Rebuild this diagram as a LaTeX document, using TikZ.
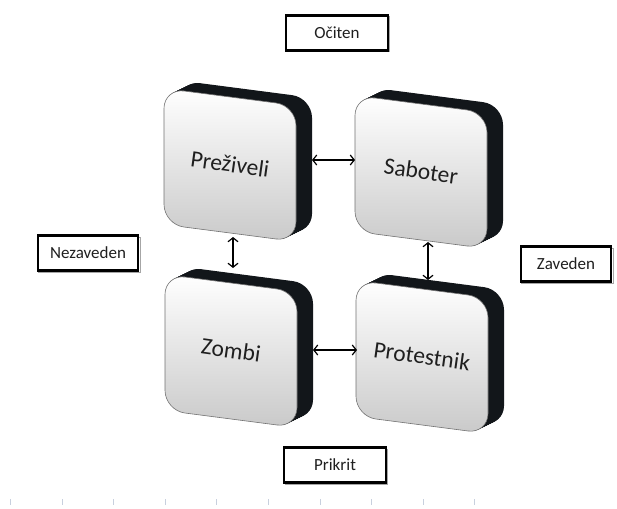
\documentclass[tikz,border=0pt]{standalone}
\usepackage{fontspec}
\setmainfont{Carlito}
\usetikzlibrary{arrows.meta}
\definecolor{sidecol}{RGB}{18,22,26}
\definecolor{tickcol}{RGB}{200,208,222}
\tikzset{
  facebox/.style={rounded corners=20pt, top color=white, bottom color=black!21, draw=black!55, line width=0.6pt},
  sidebox/.style={rounded corners=20pt, fill=sidecol},
  blocktext/.style={font=\fontsize{23.5}{27}\selectfont, text=black!88, rotate=-8, inner sep=1pt},
  boundbox/.style={inner sep=0pt, outer sep=0pt, draw=none},
  labelbox/.style={draw=black, line width=2.4pt, fill=white, minimum width=102pt, minimum height=35pt, font=\fontsize{17}{20}\selectfont, text=black!88, inner sep=0pt},
  labshadow/.style={draw=black!35, line width=1pt, minimum width=102pt, minimum height=35pt, inner sep=0pt},
  conn/.style={{Straight Barb[length=4pt,width=10pt]}-{Straight Barb[length=4pt,width=10pt]}, line width=1.2pt, black},
}
\newcommand\myblock[4]{%
  \begin{scope}[shift={(#1,#2)}, yslant=-0.13]
    \foreach \t in {16,15,...,1} {\path[sidebox] ([shift={(\t,-0.62*\t)}]-66,-68) rectangle ([shift={(\t,-0.62*\t)}]66,68);}
    \path[facebox] (-66,-68) rectangle (66,68);
  \end{scope}
  \node[blocktext] (#4) at (#1,#2-1) {#3};
}
\begin{document}
\begin{tikzpicture}[x=1pt,y=-1pt]
\useasboundingbox (0,0) rectangle (617,508);
\fill[white] (0,0) rectangle (617,508);
% blocks
\myblock{230}{165}{Preživeli}{preT}
\myblock{421}{172}{Saboter}{sabT}
\myblock{231}{351}{Zombi}{zomT}
\myblock{422}{357}{Protestnik}{proT}
% bounding nodes for connectors
\node[boundbox, minimum width=147pt, minimum height=157pt] (pre) at (238.5,158.5) {};
\node[boundbox, minimum width=148pt, minimum height=156pt] (sab) at (429,164) {};
\node[boundbox, minimum width=148pt, minimum height=157pt] (zom) at (239,346.5) {};
\node[boundbox, minimum width=150pt, minimum height=150pt] (pro) at (432,355) {};
\coordinate (yT) at (0,160);
\coordinate (yB) at (0,350);
\coordinate (xL) at (233,0);
\coordinate (xR) at (428,0);
\draw[conn] (pre.east |- yT) -- (sab.west |- yT);
\draw[conn] (zom.east |- yB) -- (pro.west |- yB);
\draw[conn] (pre.south -| xL) -- (zom.north -| xL);
\draw[conn] (sab.south -| xR) -- (pro.north -| xR);
% label boxes
\node[labshadow] at (338.5,34.5) {};
\node[labelbox] (ociten) at (337,33) {Očiten};
\node[labshadow] at (89.5,254.5) {};
\node[labelbox, minimum width=100pt] (nez) at (88,253) {Nezaveden};
\node[labshadow, minimum width=92pt] at (567.5,265.5) {};
\node[labelbox, minimum width=90pt] (zav) at (566,264) {Zaveden};
\node[labshadow] at (336.5,466.5) {};
\node[labelbox] (prik) at (335,465) {Prikrit};
% ticks
\foreach \x in {10,62,113,165,216,268,320,371,423,474} \draw[tickcol, line width=0.8pt] (\x,499) -- (\x,505);
\end{tikzpicture}
\end{document}
